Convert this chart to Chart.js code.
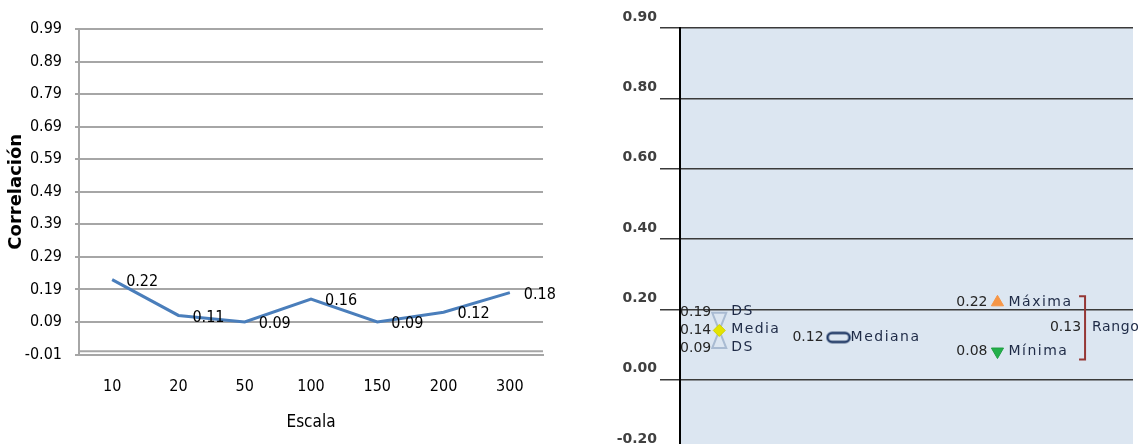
<!DOCTYPE html>
<html lang="es">
<head>
<meta charset="utf-8">
<title>Correlación por escala</title>
<script src="https://cdn.jsdelivr.net/npm/chart.js@4.4.1/dist/chart.umd.min.js"></script>
<style>
  html, body { margin: 0; padding: 0; background: #fff; overflow: hidden; }
  #left  { position: absolute; left: 0; top: 0; }
  #right { position: absolute; left: 600px; top: 0; }
</style>
</head>
<body>
<canvas id="left" width="560" height="444"></canvas>
<canvas id="right" width="542" height="462"></canvas>
<script>
// ── datos: panel izquierdo (correlación por escala) ──
const scaleLabels = ['10', '20', '50', '100', '150', '200', '300'];
const correlation = [0.22, 0.11, 0.09, 0.16, 0.09, 0.12, 0.18];
const leftTicks   = [-0.01, 0.09, 0.19, 0.29, 0.39, 0.49, 0.59, 0.69, 0.79, 0.89, 0.99];

// ── datos: panel derecho (resumen estadístico) ──
const rightTicks      = [-0.2, 0, 0.2, 0.4, 0.6, 0.8, 1.0];
const rightTickLabels = ['-0.20', '0.00', '0.20', '0.40', '0.60', '0.80', '0.90'];
const statNames  = ['Media', 'Mediana', 'Máxima', 'Mínima'];
const statValues = [0.14, 0.12, 0.22, 0.08];
const sdNames    = ['DS', 'DS'];
const sdValues   = [0.19, 0.09];          // media + DS, media - DS
const rangeName  = ['Rango'];
const rangeValue = [0.13];

// posiciones horizontales de cada grupo (unidades del eje x oculto, 0..12)
const SLOT = { media: 1.04, mediana: 4.2, extremos: 8.41, rango: 10.73 };

const NARROW = "'Liberation Sans Narrow', 'DejaVu Sans Condensed', sans-serif";
const WIDE   = "'DejaVu Sans', Verdana, sans-serif";

// ─────────────────────────────────────────────────────────────
// Panel izquierdo
// ─────────────────────────────────────────────────────────────
const leftPlugin = {
  id: 'leftExtras',
  beforeDatasetsDraw(chart) {
    // línea del eje x en 0 (justo encima de la rejilla de -0.01)
    const { ctx, chartArea } = chart;
    const y = chart.scales.y.getPixelForValue(0);
    ctx.save();
    ctx.strokeStyle = '#A6A6A6';
    ctx.lineWidth = 2;
    ctx.beginPath();
    ctx.moveTo(chartArea.left, y);
    ctx.lineTo(chartArea.right, y);
    ctx.stroke();
    ctx.restore();
  },
  afterDatasetsDraw(chart) {
    // etiquetas de valor a la derecha de cada punto
    const { ctx } = chart;
    const meta = chart.getDatasetMeta(0);
    ctx.save();
    ctx.font = `16px ${NARROW}`;
    ctx.fillStyle = '#000';
    ctx.textAlign = 'left';
    ctx.textBaseline = 'middle';
    meta.data.forEach((pt, i) => {
      ctx.fillText(correlation[i].toFixed(2), pt.x + 14, pt.y + 2);
    });
    ctx.restore();
  }
};

new Chart(document.getElementById('left'), {
  type: 'line',
  data: {
    labels: scaleLabels,
    datasets: [{
      data: correlation,
      borderColor: '#4A7EBB',
      borderWidth: 3,
      pointRadius: 0,
      tension: 0
    }]
  },
  options: {
    responsive: false,
    animation: false,
    devicePixelRatio: 1,
    layout: { padding: { top: 29, right: 17, bottom: 0, left: 0 } },
    plugins: { legend: { display: false }, tooltip: { enabled: false } },
    scales: {
      x: {
        offset: true,
        grid: { display: false },
        border: { display: true, color: '#A6A6A6', width: 2 },
        ticks: { color: '#000', font: { family: NARROW, size: 16 }, padding: 15 },
        title: {
          display: true, text: 'Escala', color: '#000',
          font: { family: NARROW, size: 17 },
          padding: { top: 0, bottom: 11 }
        },
        afterFit(scale) { scale.height = 89.5; }
      },
      y: {
        min: -0.01,
        max: 0.99,
        afterBuildTicks(scale) { scale.ticks = leftTicks.map(v => ({ value: v })); },
        grid: { color: '#A6A6A6', lineWidth: 2, tickLength: 4 },
        border: { display: true, color: '#A6A6A6', width: 2 },
        ticks: {
          color: '#000', padding: 13,
          font: { family: NARROW, size: 16 },
          callback: v => Number(v).toFixed(2)
        },
        title: {
          display: true, text: 'Correlación', color: '#000',
          font: { family: WIDE, size: 18, weight: 'bold' },
          padding: { top: 6, bottom: 0 }
        },
        afterFit(scale) { scale.width = 79; }
      }
    }
  },
  plugins: [leftPlugin]
});

// ─────────────────────────────────────────────────────────────
// Panel derecho
// ─────────────────────────────────────────────────────────────
function medianGlyph() {
  const c = document.createElement('canvas');
  c.width = 26; c.height = 14;
  const g = c.getContext('2d');
  g.strokeStyle = '#1F3864';
  g.lineWidth = 2.5;
  g.beginPath();
  g.roundRect(2, 2.5, 22, 9, 4.5);
  g.stroke();
  return c;
}

function put(ctx, text, x, y, align, color, spacing) {
  ctx.textAlign = align;
  ctx.fillStyle = color;
  ctx.letterSpacing = spacing || '0px';
  ctx.fillText(text, x, y);
}

const NUM_COLOR  = '#262626';
const WORD_COLOR = '#1E2A46';

const summaryPlugin = {
  id: 'summary',
  beforeDraw(chart) {
    const { ctx, chartArea: a } = chart;
    ctx.save();
    ctx.fillStyle = '#DCE6F1';
    ctx.fillRect(a.left, a.top, a.right - a.left, a.bottom - a.top);
    ctx.restore();
  },
  beforeDatasetsDraw(chart) {
    const { ctx } = chart;
    const xs = chart.scales.x, ys = chart.scales.y;

    // reloj de arena: media ± DS
    const x  = xs.getPixelForValue(SLOT.media);
    const yH = ys.getPixelForValue(sdValues[0]);
    const yM = ys.getPixelForValue(statValues[0]);
    const yL = ys.getPixelForValue(sdValues[1]);
    ctx.save();
    ctx.strokeStyle = '#A9BBD2';
    ctx.lineWidth = 2;
    ctx.beginPath();
    ctx.moveTo(x - 7, yH); ctx.lineTo(x + 7, yH); ctx.lineTo(x, yM); ctx.closePath();
    ctx.moveTo(x - 7, yL); ctx.lineTo(x + 7, yL); ctx.lineTo(x, yM); ctx.closePath();
    ctx.stroke();

    // corchete del rango
    const bx = xs.getPixelForValue(SLOT.rango);
    const bt = ys.getPixelForValue(statValues[2]) - 6;
    const bb = ys.getPixelForValue(statValues[3]) + 8;
    ctx.strokeStyle = '#953735';
    ctx.lineWidth = 2;
    ctx.beginPath();
    ctx.moveTo(bx - 6, bt); ctx.lineTo(bx, bt); ctx.lineTo(bx, bb); ctx.lineTo(bx - 6, bb);
    ctx.stroke();
    ctx.restore();
  },
  afterDatasetsDraw(chart) {
    const { ctx } = chart;
    const xs = chart.scales.x, ys = chart.scales.y;
    ctx.save();
    ctx.font = `14px ${WIDE}`;
    ctx.textBaseline = 'middle';

    // media y DS
    const xm = xs.getPixelForValue(SLOT.media);
    [[sdValues[0], sdNames[0]], [statValues[0], statNames[0]], [sdValues[1], sdNames[1]]]
      .forEach(([v, name]) => {
        const y = ys.getPixelForValue(v);
        put(ctx, v.toFixed(2), xm - 8, y, 'right', NUM_COLOR);
        put(ctx, name, xm + 12, y - 1, 'left', WORD_COLOR, '1.4px');
      });

    // mediana
    const xd = xs.getPixelForValue(SLOT.mediana);
    const yd = ys.getPixelForValue(statValues[1]);
    put(ctx, statValues[1].toFixed(2), xd - 15, yd, 'right', NUM_COLOR);
    put(ctx, statNames[1], xd + 12, yd, 'left', WORD_COLOR, '1.5px');

    // máxima / mínima
    const xe = xs.getPixelForValue(SLOT.extremos);
    [2, 3].forEach(i => {
      const y = ys.getPixelForValue(statValues[i]);
      put(ctx, statValues[i].toFixed(2), xe - 10, y, 'right', NUM_COLOR);
      put(ctx, statNames[i], xe + 11, y, 'left', WORD_COLOR, '1.5px');
    });

    // rango
    const xr = xs.getPixelForValue(SLOT.rango);
    const yr = (ys.getPixelForValue(statValues[2]) + ys.getPixelForValue(statValues[3])) / 2;
    put(ctx, rangeValue[0].toFixed(2), xr - 4, yr, 'right', NUM_COLOR);
    put(ctx, rangeName[0], xr + 7, yr, 'left', WORD_COLOR, '0.6px');
    ctx.restore();
  }
};

const point = (slot, v) => [{ x: slot, y: v }];

new Chart(document.getElementById('right'), {
  type: 'scatter',
  data: {
    datasets: [
      { label: statNames[0], data: point(SLOT.media, statValues[0]),
        pointStyle: 'rectRot', pointRadius: 6,
        backgroundColor: '#E4E400', borderColor: '#D2D200', borderWidth: 1 },
      { label: statNames[1], data: point(SLOT.mediana, statValues[1]),
        pointStyle: medianGlyph(), pointRadius: 8 },
      { label: statNames[2], data: point(SLOT.extremos, statValues[2]),
        pointStyle: 'triangle', pointRadius: 7,
        backgroundColor: '#F79646', borderColor: '#F79646', borderWidth: 1 },
      { label: statNames[3], data: point(SLOT.extremos, statValues[3]),
        pointStyle: 'triangle', pointRadius: 7, pointRotation: 180,
        backgroundColor: '#22B04A', borderColor: '#1E9E40', borderWidth: 1 }
    ]
  },
  options: {
    responsive: false,
    animation: false,
    devicePixelRatio: 1,
    layout: { padding: { top: 28, right: 0, bottom: 12, left: 0 } },
    plugins: { legend: { display: false }, tooltip: { enabled: false } },
    scales: {
      x: { type: 'linear', min: 0, max: 12, display: false },
      y: {
        min: -0.2,
        max: 1.0,
        afterBuildTicks(scale) { scale.ticks = rightTicks.map(v => ({ value: v })); },
        grid: { color: '#3A3A3A', lineWidth: 1.5, tickLength: 20 },
        border: { display: true, color: '#000', width: 2 },
        ticks: {
          color: '#404040', padding: 3, labelOffset: -11,
          font: { family: WIDE, size: 14, weight: 'bold' },
          callback: (v, i) => rightTickLabels[i]
        },
        afterFit(scale) { scale.width = 80; }
      }
    }
  },
  plugins: [summaryPlugin]
});
</script>
</body>
</html>
